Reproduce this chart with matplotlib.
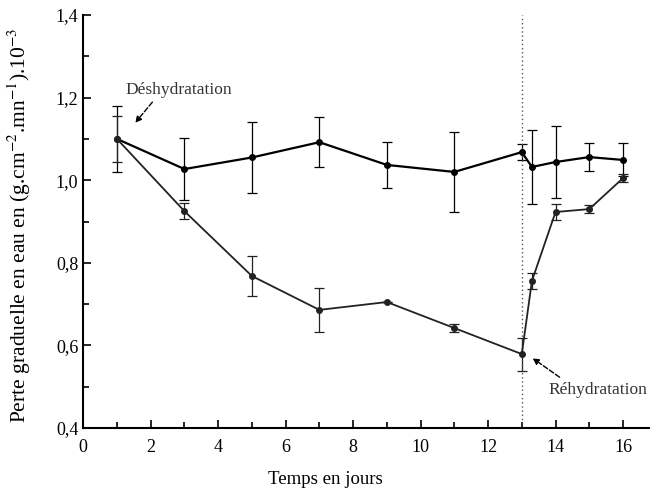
import numpy as np
import matplotlib.pyplot as plt

plt.rcParams['font.family'] = ['Liberation Serif', 'DejaVu Serif']
plt.rcParams['mathtext.fontset'] = 'stix'

# jours de mesure
jours = [1, 3, 5, 7, 9, 11, 13, 13.3, 14, 15, 16]

# serie temoin (haut)
temoin = [1.10, 1.027, 1.055, 1.092, 1.037, 1.020, 1.068, 1.032, 1.044, 1.056, 1.049]
temoin_err = [0.08, 0.075, 0.085, 0.06, 0.055, 0.097, 0.02, 0.09, 0.088, 0.033, 0.04]

# serie deshydratation / rehydratation (bas)
stress = [1.10, 0.925, 0.768, 0.686, 0.705, 0.642, 0.579, 0.756, 0.923, 0.930, 1.005]
stress_err = [0.055, 0.02, 0.048, 0.053, 0.0, 0.01, 0.04, 0.02, 0.02, 0.01, 0.01]

fig = plt.figure(figsize=(6.5, 5), dpi=100)
ax = fig.add_axes([0.128, 0.144, 0.872, 0.826])

ax.errorbar(jours, temoin, yerr=temoin_err, color='black', lw=1.6, marker='o',
            ms=4, capsize=3.5, elinewidth=0.9, capthick=0.9)
ax.errorbar(jours, stress, yerr=stress_err, color='#222222', lw=1.3, marker='o',
            ms=4, capsize=3.5, elinewidth=0.9, capthick=0.9)

ax.axvline(13, color='#555555', lw=1, ls=(0, (1, 2)))

fleche = dict(arrowstyle='-|>', color='black', ls='--', lw=1,
              shrinkA=0, shrinkB=0, mutation_scale=9)
ax.text(1.25, 1.218, 'Déshydratation', fontsize=12.5, color='#333333', va='center')
ax.annotate('', xy=(1.54, 1.139), xytext=(2.05, 1.189), arrowprops=fleche)
ax.text(13.8, 0.492, 'Réhydratation', fontsize=12.5, color='#333333', va='center')
ax.annotate('', xy=(13.32, 0.569), xytext=(14.12, 0.523), arrowprops=fleche)

ax.set_xlim(0, 16.8)
ax.set_ylim(0.4, 1.4)
ax.set_xticks(np.arange(0, 17, 2))
ax.set_xticks(np.arange(1, 17, 2), minor=True)
ax.set_yticks(np.arange(0.4, 1.41, 0.2))
ax.set_yticks(np.arange(0.5, 1.4, 0.2), minor=True)
ax.set_yticklabels([f'{v:.1f}'.replace('.', ',') for v in np.arange(0.4, 1.41, 0.2)])

ax.tick_params(direction='in', length=6, width=1.2, labelsize=13)
ax.tick_params(which='minor', direction='in', length=4, width=1.2)
ax.tick_params(axis='x', pad=8)

for s in ['top', 'right']:
    ax.spines[s].set_visible(False)
for s in ['left', 'bottom']:
    ax.spines[s].set_linewidth(1.5)

ax.set_xlabel('Temps en jours', fontsize=13.5)
ax.xaxis.set_label_coords(0.427, -0.105)
ax.set_ylabel(r'Perte graduelle en eau en (g.cm$^{-2}$.mn$^{-1}$).10$^{-3}$', fontsize=15.5)
ax.yaxis.set_label_coords(-0.088, 0.49)

fig.savefig('out.png', dpi=100)
